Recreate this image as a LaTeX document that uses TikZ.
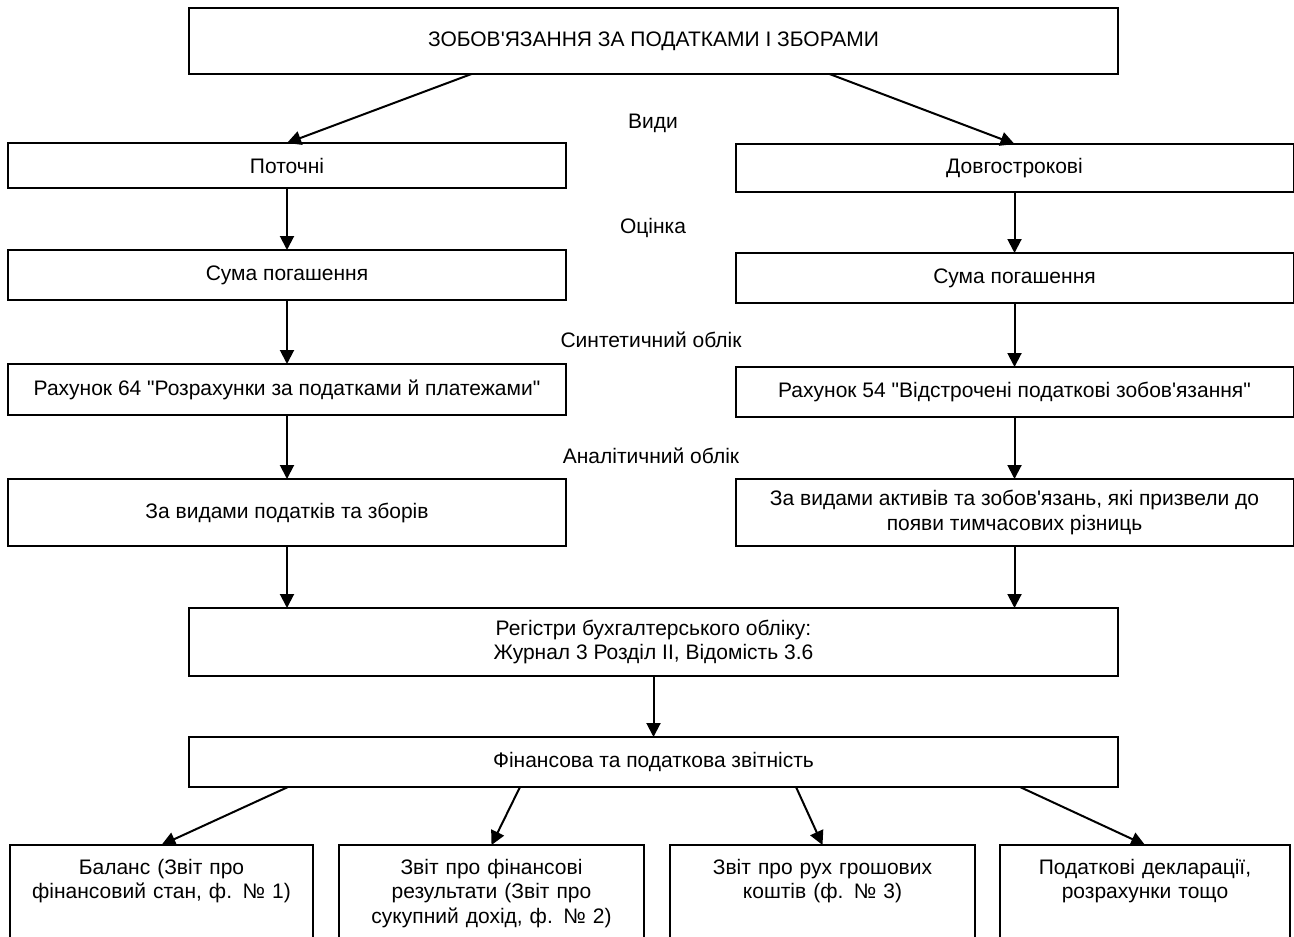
\documentclass[tikz,border=0pt]{standalone}
\usepackage{fontspec}
\setmainfont{Liberation Sans}[Ligatures=TeXOff]
\usetikzlibrary{arrows.meta}
\tikzset{
  box/.style={draw, line width=1pt, inner sep=0pt, outer sep=0pt, align=center,
    font=\fontsize{10.5}{12.3}\selectfont},
  colbox/.style={box, minimum width=279pt},
  wide/.style={box, minimum width=464.5pt},
  leaf/.style={box, anchor=north, inner xsep=0pt, inner ysep=7pt, text depth=60pt},
  lbl/.style={inner sep=0pt, font=\fontsize{10.5}{12.3}\selectfont},
  arr/.style={line width=1pt, -{Triangle[length=7pt,width=7pt]}},
}
\begin{document}
\begin{tikzpicture}[x=0.5pt, y=-0.5pt]
        \useasboundingbox (0,0) rectangle (1294,936);
        \clip (0,0) rectangle (1294,936);
        % top
        \node[wide, minimum height=33pt] (top) at (653.5,41) {ЗОБОВ'ЯЗАННЯ ЗА ПОДАТКАМИ І ЗБОРАМИ};
        \node[lbl] (kinds) at (653,123) {Види};
        % left column
        \node[colbox, minimum height=22.5pt] (cur) at (287,165.5) {Поточні};
        \node[colbox, minimum height=25pt] (sumL) at (287,275) {Сума погашення};
        \node[colbox, minimum height=25.5pt] (accL) at (287,389.5) {Рахунок 64 "Розрахунки за податками й платежами"};
        \node[colbox, minimum height=33.5pt] (anL) at (287,512.5) {За видами податків та зборів};
        % right column
        \node[colbox, minimum height=24pt] (lng) at (1014.5,168) {Довгострокові};
        \node[colbox, minimum height=25pt] (sumR) at (1014.5,278) {Сума погашення};
        \node[colbox, minimum height=25pt] (accR) at (1014.5,392) {Рахунок 54 "Відстрочені податкові зобов'язання"};
        \node[colbox, minimum height=33.5pt] (anR) at (1014.5,512.5) {За видами активів та зобов'язань, які призвели до\\появи тимчасових різниць};
        % labels between rows
        \node[lbl] (eval) at (653,228) {Оцінка};
        \node[lbl] (synth) at (651,340) {Синтетичний облік};
        \node[lbl] (anal) at (651,456) {Аналітичний облік};
        % registers and reports
        \node[wide, minimum height=34pt] (reg) at (653.5,642) {Регістри бухгалтерського обліку:\\Журнал 3 Розділ II, Відомість 3.6};
        \node[wide, minimum height=25pt] (fin) at (653.5,762) {Фінансова та податкова звітність};
        % bottom row
        \node[leaf, text width=151.5pt] (bal) at (161.5,845) {Баланс (Звіт про\\фінансовий стан, ф. № 1)};
        \node[leaf, text width=152.5pt] (res) at (491.5,845) {Звіт про фінансові\\результати (Звіт про\\сукупний дохід, ф. № 2)};
        \node[leaf, text width=152.5pt] (cash) at (822.5,845) {Звіт про рух грошових\\коштів (ф. № 3)};
        \node[leaf, text width=145pt] (decl) at (1145,845) {Податкові декларації,\\розрахунки тощо};

        % arrows from top
        \draw[arr] ([xshift=-91pt]top.south) -- (cur.north);
        \draw[arr] ([xshift=88pt]top.south) -- (lng.north);
        % left chain
        \draw[arr] (cur.south) -- (sumL.north);
        \draw[arr] (sumL.south) -- (accL.north);
        \draw[arr] (accL.south) -- (anL.north);
        \draw[arr] (anL.south) -- (anL.south |- reg.north);
        % right chain
        \draw[arr] (lng.south) -- (sumR.north);
        \draw[arr] (sumR.south) -- (accR.north);
        \draw[arr] (accR.south) -- (anR.north);
        \draw[arr] (anR.south) -- (anR.south |- reg.north);
        % reports
        \draw[arr] (reg.south) -- (fin.north);
        \draw[arr] ([xshift=-182.75pt]fin.south) -- (bal.north);
        \draw[arr] ([xshift=-66.75pt]fin.south) -- (res.north);
        \draw[arr] ([xshift=71.25pt]fin.south) -- (cash.north);
        \draw[arr] ([xshift=183.25pt]fin.south) -- (decl.north);
\end{tikzpicture}
\end{document}
